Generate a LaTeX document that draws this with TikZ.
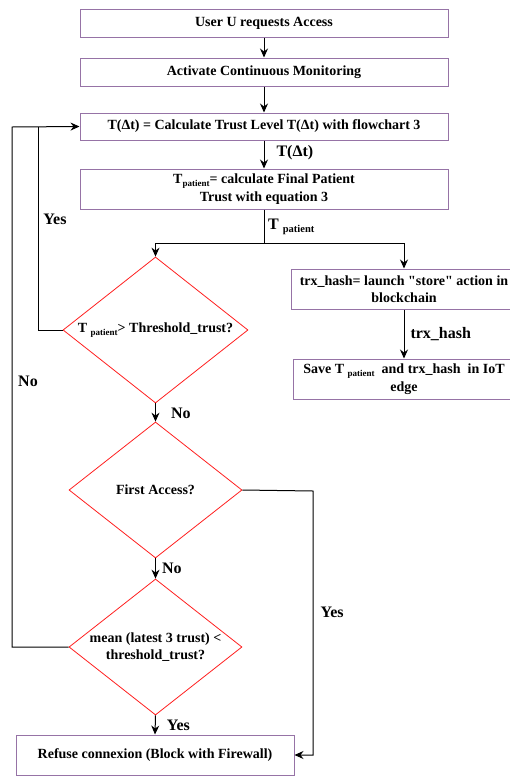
\documentclass[tikz,border=0pt]{standalone}
\usepackage{fontspec}
\setmainfont{Liberation Serif}
\newfontfamily\plainquote{Liberation Serif}
\usetikzlibrary{arrows.meta,shapes.geometric}

\newcommand{\lowtext}[1]{\raisebox{-0.45ex}{\fontsize{9}{10}\selectfont #1}}
\newcommand{\straightq}{{\plainquote\bfseries "}}

\definecolor{boxpurple}{HTML}{9673A6}
\definecolor{decred}{HTML}{FF2020}
\tikzset{
  box/.style={draw=boxpurple, line width=1pt, rectangle, align=center,
    inner sep=2pt, font=\fontsize{14}{17.5}\selectfont\bfseries},
  decision/.style={draw=decred, line width=0.8pt, diamond, inner sep=0pt},
  dtext/.style={align=center, font=\fontsize{14}{17.5}\selectfont\bfseries},
  flow/.style={draw=black, line width=1pt, -{Stealth[length=9pt,width=8pt,inset=3pt]}},
  lbl/.style={font=\fontsize{16}{18}\selectfont\bfseries, inner sep=1pt},
}

\begin{document}
\begin{tikzpicture}[x=1pt, y=-1pt]
\useasboundingbox (0,0) rectangle (510,777);
\fill[white] (0,0) rectangle (510,777);

% process boxes
\node[box, minimum width=368pt, minimum height=28pt] (req) at (264,23) {User U requests Access};
\node[box, minimum width=368pt, minimum height=28pt] (mon) at (264,72) {Activate Continuous Monitoring};
\node[box, minimum width=368pt, minimum height=27pt] (calc) at (264,126.5)
  {T(\symbol{"0394}t) = Calculate Trust Level T(\symbol{"0394}t) with flowchart 3};
\node[box, minimum width=368pt, minimum height=40pt] (final) at (264,189)
  {T\lowtext{patient}= calculate Final Patient\\Trust with equation 3};
\node[box, minimum width=226pt, minimum height=40pt] (store) at (404,289)
  {trx\_hash= launch \straightq store\straightq{} action in\\blockchain};
\node[box, minimum width=222pt, minimum height=40pt] (save) at (404,379)
  {Save T \lowtext{patient}\ \ and trx\_hash\ \ in IoT\\edge};
\node[box, minimum width=278pt, minimum height=40pt] (refuse) at (155,755)
  {Refuse connexion (Block with Firewall)};

% decisions (shape only, text laid on top)
\node[decision, minimum width=185pt, minimum height=146pt,
  label={[dtext]center:T \lowtext{patient}> Threshold\_trust?}] (thr) at (155.5,330) {};
\node[decision, minimum width=173pt, minimum height=136pt,
  label={[dtext]center:First Access?}] (first) at (155.5,490) {};
\node[decision, minimum width=173pt, minimum height=136pt,
  label={[dtext]center:{mean (latest 3 trust) <\\threshold\_trust?}}] (mean) at (155.5,647) {};

% helper points for routed connectors
\coordinate (split) at (264,243);
\coordinate (outer) at (12,127);
\coordinate (inner) at (38,127);
\coordinate (side) at (313,491);

% main flow
\draw[flow] (req) -- (mon);
\draw[flow] (mon) -- (calc);
\draw[flow] (calc) -- node[lbl, right=11pt, pos=0.45] {T(\symbol{"0394}t)} (final);
\draw[line width=1pt] (final.south) -- (split);
\node[lbl, anchor=west] (tplbl) at (267,227) {T \raisebox{-0.5ex}{\fontsize{10.5}{12}\selectfont patient}};
\draw[flow] (split) -| (thr.north);
\draw[flow] (split) -| (store.north);
\draw[flow] (store) -- node[lbl, right=5pt] {trx\_hash} (save);

\draw[flow] (thr.south) -- node[lbl, right=14pt, pos=0.55] {No} (first.north);
\draw[flow] (first.south) -- node[lbl, right=5pt, pos=0.5] {No} (mean.north);
\draw[flow] (mean.south) -- node[lbl, right=10pt, pos=0.5] {Yes} (refuse.north);

% first access goes straight to refusal
\draw[flow] (first.east) -- (side) |- node[lbl, pos=0.23, right=6pt] {Yes} (refuse.east);

% loops back to trust computation
\draw[flow] (mean.west) -| (outer) -- (calc.west);
\draw[line width=1pt] (thr.west) -| (inner);
\node[lbl] (yeslbl) at (55,219) {Yes};
\node[lbl] (nolbl) at (28,381) {No};
\end{tikzpicture}
\end{document}
